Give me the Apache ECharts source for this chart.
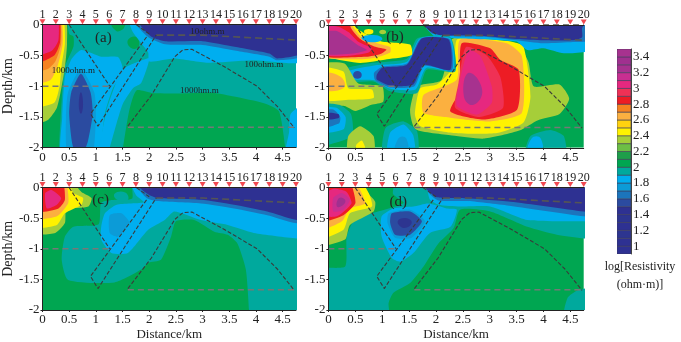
<!DOCTYPE html>
<html><head><meta charset="utf-8">
<script src="https://cdn.jsdelivr.net/npm/echarts@6/dist/echarts.min.js"></script>
<style>html,body{margin:0;padding:0;background:#fff}#c{width:681px;height:342px;filter:blur(0.4px)}</style>
</head><body><div id="c"></div>
<script>
// ---- tick labels ----
const stationLabels = ['1','2','3','4','5','6','7','8','9','10','11','12','13','14','15','16','17','18','19','20'];
const stationKm = [0,0.25,0.5,0.75,1,1.25,1.5,1.75,2,2.25,2.5,2.75,3,3.25,3.5,3.75,4,4.25,4.5,4.75];
const distanceTicks = [0,0.5,1,1.5,2,2.5,3,3.5,4,4.5];
const depthTicks = [0,-0.5,-1,-1.5,-2];
const scaleTicks = [1,1.2,1.4,1.6,1.8,2,2.2,2.4,2.6,2.8,3,3.2,3.4];
// ---- colour scale: each level is the lower edge of a 0.1 band ----
const levels = [0.9,1,1.1,1.2,1.3,1.4,1.5,1.6,1.7,1.8,1.9,2,2.1,2.2,2.3,2.4,2.5,2.6,2.7,2.8,2.9,3,3.1,3.2,3.3,3.4];
const levelColors = ['#2E3192','#2E3192','#2D3590','#2E3192','#2D3590','#2E3192','#2B4BA0','#1C75BC','#0C9BD7','#00AEEF','#00A99D','#00A651','#1E9E4A','#6DBE45','#A6CE39','#FFF200','#FFD20F','#FBB040','#F58220','#ED1C24','#EF3155','#E6287F','#C82F91','#A7328F','#A0308F','#A7328F'];
// ---- resistivity contour bands: [log-resistivity level, boundary as [km, depth km]] ----
const full = [[0,0],[4.75,0],[4.75,-2],[0,-2]];
const contoursA = [
 [1.9,full],
 [2,[[-.15,.15],[.42,.15],[.5,-.15],[.58,-.19],[.58,-.36],[.42,-.68],[.36,-1.22],[.31,-2],[.3,-2.15],[-.15,-2.15]]],
 [2,[[1.5,-2.15],[1.51,-2],[1.63,-1.38],[1.76,-1.07],[2.04,-1.11],[2.53,-1.12],[3.22,-1.11],[3.59,-1.17],[4.15,-1.28],[4.43,-1.41],[4.55,-2],[4.57,-2.15]]],
 [2,[[1.28,.15],[1.3,-.03],[1.4,-.11],[1.52,-.06],[1.6,.15]]],
 [2,[[1.6,-.25],[1.76,-.2],[1.8,-.36],[1.66,-.38]]],
 [1.8,[[.73,-.41],[1.1,-.52],[1.42,-.53],[1.51,-.76],[1.32,-1.03],[1.17,-1.44],[1.1,-2],[1.1,-2.15],[.36,-2.15],[.37,-1.5],[.42,-.85],[.55,-.55]]],
 [1.8,[[2,-.55],[1.85,-.95],[1.7,-1.03],[1.51,-1.28],[1.39,-1.6],[1.26,-2],[1.2,-2.15],[1.05,-2.15],[1.2,-1.4],[1.4,-.9],[1.55,-.7],[1.8,-.6]]],
 [1.8,[[1.62,.15],[1.68,-.1],[1.85,-.3],[1.98,-.45],[2,-.6],[2.47,-.55],[3.1,-.62],[3.96,-.58],[4.9,-.6],[4.9,.15]]],
 [1.8,[[4.9,-1.3],[4.65,-1.45],[4.62,-1.75],[4.55,-2.15],[4.9,-2.15]]],
 [1.6,[[1.7,.15],[1.76,0],[1.98,-.2],[2.3,-.32],[3,-.33],[3.6,-.42],[4.25,-.52],[4.4,-.58],[4.9,-.5],[4.9,.15]]],
 [1.2,[[1.8,.15],[1.85,-.03],[2.05,-.2],[2.3,-.27],[3,-.27],[3.6,-.36],[4.25,-.47],[4.4,-.55],[4.9,-.45],[4.9,.15]]],
 [1.7,[[.72,-.72],[.97,-1.1],[1,-1.5],[.92,-2.15],[.48,-2.15],[.44,-1.5],[.48,-1.1]]],
 [1.5,[[.72,-.8],[.9,-1.1],[.94,-1.45],[.85,-1.9],[.75,-2.1],[.62,-2.1],[.55,-1.9],[.5,-1.45],[.54,-1.1]]],
 [1.3,[[.72,-1.1],[.76,-1.3],[.72,-1.45],[.68,-1.3]]],
 [2.3,[[-.15,.15],[.42,.15],[.46,-.3],[.42,-.7],[.36,-1],[.27,-1.35],[.1,-1.55],[-.15,-1.6]]],
 [2.4,[[-.15,.15],[.37,.15],[.42,-.3],[.36,-.65],[.32,-1],[.22,-1.27],[-.15,-1.32]]],
 [2.6,[[-.15,.15],[.33,.15],[.38,-.3],[.28,-.68],[.15,-.9],[-.15,-.95]]],
 [2.7,[[-.15,.15],[.31,.15],[.35,-.3],[.24,-.6],[.1,-.72],[-.15,-.75]]],
 [2.8,[[-.15,.15],[.3,.15],[.33,-.28],[.22,-.5],[-.15,-.62]]],
 [3,[[-.15,.15],[.27,.15],[.3,-.25],[.18,-.42],[-.15,-.5]]]
];
const contoursB = [
 [2,full],
 [2.3,[[2.28,-.25],[2.4,-.2],[3.5,-.3],[3.72,-.6],[3.82,-1],[4.3,-.97],[4.48,-1.2],[4.3,-1.45],[3.9,-1.55],[3.55,-1.72],[2.9,-1.85],[2.3,-1.8],[1.62,-1.7],[1.52,-1.4],[1.65,-1],[2.1,-.9]]],
 [2.4,[[2.39,-.24],[2.33,-.68],[2.02,-.97],[1.71,-1.03],[1.61,-1.46],[1.71,-1.65],[2.33,-1.76],[3.14,-1.76],[3.63,-1.59],[3.76,-1.16],[3.63,-.35],[3.39,-.27],[2.76,-.22]]],
 [2.6,[[2.45,-.24],[2.39,-.89],[1.77,-1.14],[1.77,-1.43],[2.27,-1.51],[3.01,-1.57],[3.6,-1.43],[3.6,-.51],[3.32,-.3]]],
 [2.8,[[2.48,-.3],[2.45,-1.05],[2.27,-1.41],[2.89,-1.54],[3.51,-1.38],[3.54,-.73],[3.2,-.57],[3.01,-.38]]],
 [2.9,[[2.56,-.36],[2.42,-.95],[2.36,-1.35],[2.8,-1.5],[3.25,-1.35],[3.2,-.85],[2.95,-.5]]],
 [3,[[2.61,-.41],[2.42,-1],[2.39,-1.32],[2.76,-1.46],[3.04,-1.27],[3.04,-1],[2.83,-.51]]],
 [3.2,[[2.61,-.78],[2.52,-1.16],[2.7,-1.3],[2.86,-1.05]]],
 [1.8,[[1.7,.15],[1.82,-.05],[2,-.2],[2.45,-.22],[3.5,-.27],[3.7,-.41],[4,-.38],[4.38,-.46],[4.9,-.4],[4.9,.15]]],
 [1.6,[[1.72,.15],[1.8,-.02],[1.95,-.15],[2.48,-.19],[3,-.2],[3.5,-.25],[4,-.3],[4.55,-.28],[4.9,-.25],[4.9,.15]]],
 [1.2,[[1.76,.15],[1.78,0],[1.92,-.12],[2.1,-.17],[2.48,-.17],[2.9,-.18],[3.5,-.23],[4,-.25],[4.55,-.25],[4.72,-.2],[4.72,-.05],[4.85,.15]]],
 [1.9,[[.3,-.72],[.8,-.62],[1.46,-.55],[1.65,-.22],[2.27,-.2],[2.36,-.76],[1.83,-.73],[1.65,-1.11],[1.15,-1.08],[.84,-.92],[.35,-.92]]],
 [1.8,[[.38,-.75],[.85,-.66],[1.46,-.6],[1.7,-.22],[2.27,-.22],[2.32,-.75],[1.82,-.7],[1.62,-1.05],[1.15,-1.04],[.85,-.9],[.38,-.88]]],
 [1.6,[[.85,-.78],[1,-.68],[1.46,-.63],[1.72,-.22],[2.25,-.23],[2.3,-.74],[1.78,-.67],[1.6,-1],[1.15,-1.02],[.87,-.9]]],
 [1.2,[[.9,-.81],[1,-.7],[1.46,-.65],[1.74,-.22],[2.24,-.24],[2.27,-.73],[1.77,-.65],[1.58,-.97],[1.15,-.99],[.9,-.89]]],
 [1.5,[[.48,-.77],[.6,-.77],[.6,-.86],[.48,-.86]]],
 [2.4,[[-.15,.15],[.47,.15],[.5,-.03],[.68,-.14],[.99,-.27],[1.52,-.32],[1.55,-.49],[1.09,-.56],[.59,-.62],[0,-.54],[-.15,-.53]]],
 [2.6,[[-.15,.15],[.4,.15],[.45,-.02],[.62,-.2],[.95,-.31],[1.15,-.36],[1.15,-.45],[.9,-.53],[.55,-.56],[-.15,-.5]]],
 [2.8,[[-.15,.15],[.35,.15],[.42,-.05],[.58,-.22],[.85,-.35],[1.08,-.4],[.98,-.47],[.7,-.52],[-.15,-.49]]],
 [3,[[-.15,-.02],[.18,-.03],[.38,-.12],[.55,-.27],[.8,-.38],[.75,-.45],[.4,-.5],[-.15,-.48]]],
 [3.2,[[-.15,-.13],[.15,-.1],[.35,-.2],[.55,-.33],[.72,-.41],[.5,-.46],[-.15,-.47]]],
 [1.8,[[.62,-.2],[.9,-.17],[1,-.24],[.75,-.28]]],
 [2.4,[[.68,-.08],[.82,-.08],[.82,-.14],[.68,-.14]]],
 [2.3,[[.96,-.09],[1.06,-.09],[1.06,-.14],[.96,-.14]]],
 [2.3,[[-.15,-.65],[.3,-.63],[.55,-.95],[1,-1],[1.02,-1.25],[.8,-1.3],[.5,-1.4],[.3,-1.32],[-.15,-1.3]]],
 [2.4,[[-.15,-.7],[.28,-.76],[.37,-1.03],[.81,-1.05],[.84,-1.19],[.4,-1.22],[-.15,-1.22]]],
 [2.6,[[-.15,-.81],[.22,-.84],[.28,-1.03],[-.15,-1.03]]],
 [1.9,[[-.15,-1.3],[.2,-1.3],[.42,-1.45],[.45,-1.8],[.2,-1.9],[-.15,-1.95]]],
 [1.8,[[-.15,-1.35],[.15,-1.35],[.32,-1.5],[.28,-1.7],[-.15,-1.75]]],
 [1.6,[[-.15,-1.4],[.1,-1.38],[.22,-1.5],[.2,-1.6],[-.15,-1.68]]],
 [1.2,[[-.15,-1.45],[.18,-1.45],[.18,-1.52],[-.15,-1.52]]],
 [2.3,[[.37,-2.15],[.37,-1.81],[.59,-1.65],[.84,-1.81],[.84,-2.15]]],
 [2.4,[[.5,-2.15],[.52,-1.95],[.62,-1.88],[.68,-1.98],[.68,-2.15]]],
 [1.9,[[1.02,-2.15],[1.06,-1.68],[1.4,-1.57],[1.65,-1.73],[1.65,-2.15]]],
 [1.8,[[1.1,-2.15],[1.15,-1.75],[1.4,-1.62],[1.58,-1.8],[1.6,-2.15]]],
 [1.7,[[1.25,-2.15],[1.3,-1.85],[1.45,-1.85],[1.45,-2.15]]],
 [1.9,[[3.66,-2.15],[3.76,-1.81],[4.13,-1.71],[4.38,-1.81],[4.41,-2.15]]],
 [1.8,[[3.72,-2.15],[3.78,-1.85],[3.95,-1.85],[3.95,-2.15]]]
];
const contoursC = [
 [2,full],
 [1.9,[[.58,-.64],[.42,-.8],[.36,-1.18],[.48,-1.51],[1.35,-1.55],[1.85,-1.34],[1.98,-1.23],[2.22,-1.18],[2.41,-.8],[2.5,-.55],[2.84,-.53],[3.22,-.72],[3.47,-.77],[3.65,-.91],[3.81,-1.34],[3.87,-2],[3.87,-2.15],[4.9,-2.15],[4.9,.15],[1.7,.15],[1.68,-.18],[1.35,-.2],[1.1,-.25],[1.05,-.6]]],
 [1.9,[[1.35,-.1],[1.55,-.08],[1.6,-.2],[1.4,-.2]]],
 [1.8,[[1.65,.15],[1.75,-.12],[1.9,-.24],[1.39,-.28],[1.17,-.42],[1.1,-.64],[1.1,-.85],[1.29,-1.07],[1.6,-1.07],[1.98,-.69],[2.29,-.53],[2.47,-.39],[2.97,-.53],[3.47,-.61],[3.96,-.74],[4.76,-.83],[4.9,-.83],[4.9,.15]]],
 [1.7,[[1.26,-.45],[1.48,-.42],[1.63,-.58],[1.42,-.8],[1.26,-.74]]],
 [1.6,[[1.72,.15],[1.78,0],[1.95,-.17],[2.14,-.22],[2.97,-.26],[3.59,-.34],[4.21,-.45],[4.9,-.58],[4.9,.15]]],
 [1.2,[[1.78,.15],[1.82,0],[2,-.12],[2.16,-.17],[2.97,-.2],[3.59,-.28],[4.21,-.39],[4.9,-.53],[4.9,.15]]],
 [2.3,[[-.15,.15],[.48,.15],[.73,-.07],[.92,-.17],[.86,-.31],[.45,-.36],[.42,-.58],[.24,-.74],[-.15,-.74]]],
 [2.4,[[-.15,.15],[.45,.15],[.58,-.09],[.76,-.17],[.73,-.28],[.42,-.42],[.27,-.61],[-.15,-.64]]],
 [2.6,[[-.15,.15],[.42,.15],[.48,-.09],[.48,-.26],[.27,-.47],[-.15,-.5]]],
 [2.8,[[-.15,.15],[.36,.15],[.42,-.2],[.3,-.34],[-.15,-.39]]],
 [3,[[.08,-.34],[.27,-.28],[.35,-.17],[.17,-.04],[.05,-.09]]]
];
const contoursD = [
 [2,full],
 [1.9,[[.34,-.8],[.31,-1.29],[-.15,-1.34],[-.15,-2.15],[1.12,-2.15],[1.12,-1.89],[1.21,-1.72],[1.52,-1.56],[1.77,-1.29],[2.05,-.91],[2.33,-.66],[2.45,-.36],[3.01,-.39],[3.7,-.64],[4.25,-.77],[4.75,-.83],[4.9,-.83],[4.9,.15],[1.3,.15],[1.2,-.1],[1.4,-.25],[.8,-.42],[.5,-.5]]],
 [1.9,[[4.38,-2.15],[4.45,-1.8],[4.63,-1.68],[4.9,-1.65],[4.9,-2.15]]],
 [1.8,[[1.75,.15],[1.83,0],[1.89,-.2],[2.05,-.28],[2.45,-.31],[3.01,-.31],[3.7,-.53],[4.75,-.55],[4.9,-.55],[4.9,.15]]],
 [1.8,[[.99,-.47],[1.21,-.34],[1.58,-.31],[1.86,-.26],[2.2,-.34],[2.39,-.36],[2.27,-.64],[1.89,-.74],[1.58,-1.07],[1.34,-1.21],[1.18,-1.15],[.99,-.8]]],
 [1.7,[[1.12,-.42],[1.52,-.36],[1.8,-.55],[1.55,-.82],[1.24,-.82],[1.1,-.58]]],
 [1.5,[[1.18,-.42],[1.52,-.39],[1.74,-.55],[1.52,-.77],[1.24,-.77],[1.15,-.58]]],
 [1.3,[[1.29,-.55],[1.46,-.5],[1.55,-.58],[1.4,-.66]]],
 [1.6,[[1.75,.15],[1.88,-.1],[2.05,-.21],[2.6,-.22],[3.4,-.3],[4.75,-.47],[4.9,-.47],[4.9,.15]]],
 [1.2,[[1.78,.15],[1.8,0],[1.99,-.15],[2.14,-.17],[2.45,-.17],[3.39,-.23],[4.75,-.39],[4.9,-.39],[4.9,.15]]],
 [2.3,[[-.15,.15],[.59,.15],[.68,-.04],[.87,-.23],[.84,-.39],[.4,-.61],[.31,-.85],[-.15,-.93]]],
 [2.4,[[-.15,.15],[.55,.15],[.75,-.09],[.81,-.31],[.4,-.42],[.28,-.69],[-.15,-.82]]],
 [2.6,[[-.15,.15],[.43,.15],[.59,-.04],[.68,-.26],[.4,-.34],[.25,-.55],[-.15,-.68]]],
 [2.8,[[-.15,.15],[.37,.15],[.47,-.07],[.5,-.26],[.28,-.45],[-.15,-.55]]],
 [3,[[-.15,-.45],[.16,-.47],[.43,-.26],[.34,-.07],[.1,-.02],[-.15,-.15]]],
 [3.1,[[.09,-.39],[.28,-.36],[.4,-.2],[.25,-.09],[.09,-.17]]],
 [3.3,[[.16,-.31],[.28,-.28],[.31,-.2],[.2,-.17]]]
];
// ---- interpreted structure lines, same in every panel ----
const wedgeLine = [[.5,0],[.8,-.4],[1.26,-1]];
const domeLine = [[1.6,-1.65],[2.04,-1.15],[2.48,-.52],[2.63,-.41],[2.8,-.4],[3.4,-.68],[4.02,-1],[4.4,-1.33],[4.72,-1.68]];
const faultLine = [[1.95,-.2],[.9,-1.45],[1.04,-1.65],[2.13,-.17]];
const capLine = [[1.76,0],[2,-.15]];
const topLine = [[1.76,0],[4.75,0]];
const shallowLine = [[2.13,-.17],[3,-.17],[4.75,-.25]];
const levelLine = [[0,-1],[1.26,-1]];
const baseLine = [[1.6,-1.67],[4.72,-1.67]];
// ---- annotations: text, km, depth ----
const notesA = [['(a)',1.14,-.22,15],['10ohm.m',3.09,-.11,9],['100ohm.m',4.15,-.65,9],['1000hm.m',2.94,-1.07,9],['1000ohm.m',.58,-.74,9]];
const notesB = [['(b)',1.24,-.19,15]];
const notesC = [['(c)',1.09,-.21,15]];
const notesD = [['(d)',1.3,-.24,15]];

const FONT = '"Liberation Serif", serif';
const SMOOTH = 0.2;
const panels = [
 {left:40.7, top:24.7, contours:contoursA, notes:notesA, yName:'Depth/km', xName:''},
 {left:328.4,top:24.9, contours:contoursB, notes:notesB, yName:'', xName:''},
 {left:40.7, top:187.6,contours:contoursC, notes:notesC, yName:'Depth/km', xName:'Distance/km'},
 {left:328.4,top:187.6,contours:contoursD, notes:notesD, yName:'', xName:'Distance/km'}
];
const colorOf = v => levelColors[levels.indexOf(v)];
const grids=[],xAxes=[],yAxes=[],series=[];
panels.forEach((p,i)=>{
  grids.push({left:p.left,top:p.top,width:255.3,height:122.9});
  const xb=xAxes.length;
  xAxes.push({type:'value',gridIndex:i,min:0,max:4.75,position:'bottom',
    splitLine:{show:false},
    axisLine:{show:true,onZero:false,lineStyle:{color:'#222',width:1}},
    axisTick:{show:true,length:2,customValues:distanceTicks,lineStyle:{color:'#222'}},
    axisLabel:{customValues:distanceTicks,color:'#222',fontFamily:FONT,fontSize:13,margin:3,formatter:v=>String(v)},
    name:p.xName,nameLocation:'middle',nameGap:18,nameTextStyle:{fontFamily:FONT,fontSize:13,color:'#222'},z:5});
  xAxes.push({type:'value',gridIndex:i,min:0,max:4.75,position:'top',
    splitLine:{show:false},
    axisLine:{show:true,onZero:false,lineStyle:{color:'#222',width:1}},
    axisTick:{show:false},
    axisLabel:{customValues:stationKm,color:'#222',fontFamily:FONT,fontSize:12,margin:4,
      formatter:v=>stationLabels[stationKm.indexOf(v)]},z:5});
  yAxes.push({type:'value',gridIndex:i,min:-2,max:0,interval:0.5,
    splitLine:{show:false},
    axisLine:{show:true,onZero:false,lineStyle:{color:'#222',width:1}},
    axisTick:{show:true,length:2,lineStyle:{color:'#222'}},
    axisLabel:{customValues:depthTicks,color:'#222',fontFamily:FONT,fontSize:13,margin:3,formatter:v=>String(v)},
    name:p.yName,nameLocation:'middle',nameRotate:90,nameGap:22,nameTextStyle:{fontFamily:FONT,fontSize:14,color:'#222'},z:5});
  series.push({type:'custom',xAxisIndex:xb,yAxisIndex:i,clip:true,silent:true,z:1,
    data:p.contours.map((c,k)=>[k]),
    renderItem:(params,api)=>{
      const c=p.contours[params.dataIndex];
      const pts=c[1].map(q=>api.coord(q));
      return {type:'polygon',shape:{points:pts,smooth:c[1]===full?0:(pts.length>4?SMOOTH:0.5)},style:{fill:colorOf(c[0]),stroke:null}};
    }});
  const line=(data,color,width,dash)=>series.push({type:'line',xAxisIndex:xb,yAxisIndex:i,data,showSymbol:false,silent:true,z:3,clip:false,
    lineStyle:{color,width,type:dash},animation:false});
  line(topLine,'#555',1.2,[6,4]);
  line(shallowLine,'#555',1.6,[7,4]);
  line(levelLine,'#777',1.5,[6,4]);
  line(baseLine,'#777',1.5,[6,4]);
  line(wedgeLine,'#3a3a3a',1.1,[4,2]);
  line(domeLine,'#3a3a3a',1.1,[4,2]);
  line(faultLine,'#3a3a3a',1.1,[4,2]);
  line(capLine,'#3a3a3a',1.1,[4,2]);
  series.push({type:'scatter',xAxisIndex:xb,yAxisIndex:i,data:stationKm.map(x=>[x,0]),symbol:'triangle',symbolRotate:180,symbolSize:[6,5],symbolOffset:[0,-3],clip:false,silent:true,z:6,itemStyle:{color:'#EE1C25'}});
  series.push({type:'custom',xAxisIndex:xb,yAxisIndex:i,silent:true,z:7,clip:false,
    data:p.notes.map((n,k)=>[k]),
    renderItem:(params,api)=>{
      const n=p.notes[params.dataIndex], q=api.coord([n[1],n[2]]);
      return {type:'text',x:q[0],y:q[1],style:{text:n[0],fill:'#222',font:n[3]+'px '+FONT,textAlign:'center',textVerticalAlign:'middle'}};
    }});
});
// colour bar
grids.push({left:617,top:49,width:14,height:205});
const cb=xAxes.length;
xAxes.push({type:'value',gridIndex:4,min:0,max:1,show:false});
yAxes.push({type:'value',gridIndex:4,min:0.9,max:3.5,splitLine:{show:false},
  axisLine:{show:true,onZero:false,lineStyle:{color:'#444',width:1}},axisTick:{show:false},position:'right',
  axisLabel:{customValues:scaleTicks,color:'#222',fontFamily:FONT,fontSize:13,margin:2,formatter:v=>String(v)}});
series.push({type:'custom',xAxisIndex:cb,yAxisIndex:4,silent:true,clip:true,z:2,
  data:levels.map((v,k)=>[k]),
  renderItem:(params,api)=>{
    const v=levels[params.dataIndex], a=api.coord([0,v+0.1]), b=api.coord([1,v]);
    return {type:'rect',shape:{x:a[0],y:a[1],width:b[0]-a[0],height:b[1]-a[1]},style:{fill:levelColors[params.dataIndex],stroke:'#3a3a55',lineWidth:0.6}};
  }});
const chart=echarts.init(document.getElementById('c'),null,{renderer:'canvas'});
chart.setOption({animation:false,backgroundColor:'#fff',grid:grids,xAxis:xAxes,yAxis:yAxes,series,
  graphic:[
   {type:'text',x:640,y:267,style:{text:'log[Resistivity',font:'12px '+FONT,fill:'#222',textAlign:'center',textVerticalAlign:'middle'}},
   {type:'text',x:640,y:285,style:{text:'(ohm·m)]',font:'12px '+FONT,fill:'#222',textAlign:'center',textVerticalAlign:'middle'}}
  ]});
</script></body></html>
